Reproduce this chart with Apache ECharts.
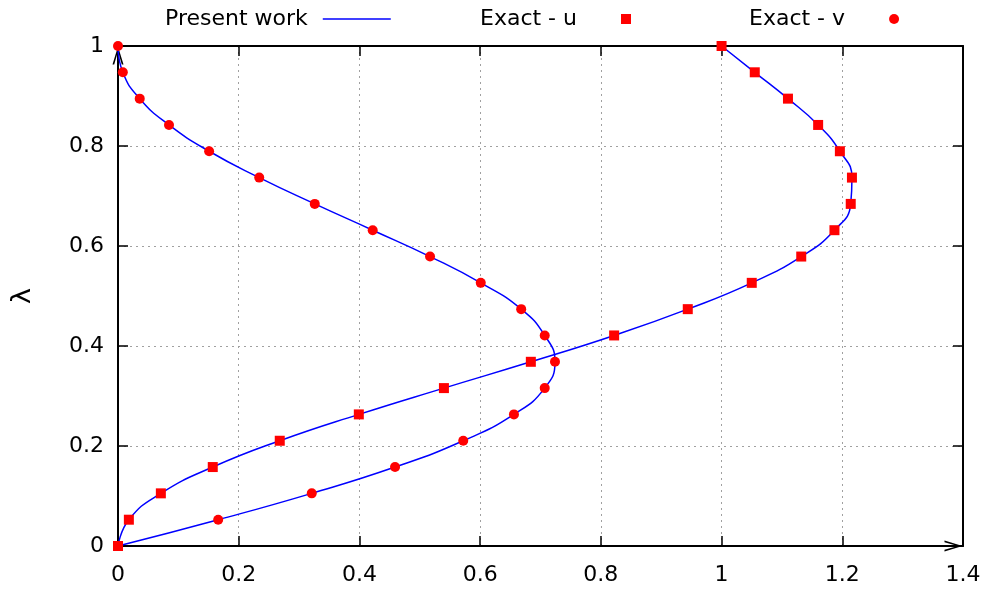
<!DOCTYPE html>
<html>
<head>
<meta charset="utf-8">
<script src="https://cdn.jsdelivr.net/npm/echarts@6/dist/echarts.min.js"></script>
<style>html,body{margin:0;padding:0;background:#fff;}#chart{width:989px;height:589px;}</style>
</head>
<body>
<div id="chart"></div>
<script>
// lambda (y) values: 20 equally spaced stations
const lambda = [0, 0.0526, 0.1053, 0.1579, 0.2105, 0.2632, 0.3158, 0.3684, 0.4211, 0.4737,
                0.5263, 0.5789, 0.6316, 0.6842, 0.7368, 0.7895, 0.8421, 0.8947, 0.9474, 1];
// Exact - u
const exactU = [0, 0.018, 0.071, 0.157, 0.268, 0.399, 0.540, 0.684, 0.822, 0.944,
                1.050, 1.132, 1.187, 1.214, 1.216, 1.196, 1.160, 1.110, 1.055, 1.0];
// Exact - v
const exactV = [0, 0.166, 0.321, 0.459, 0.572, 0.656, 0.707, 0.724, 0.707, 0.668,
                0.601, 0.517, 0.422, 0.326, 0.234, 0.151, 0.0845, 0.036, 0.008, 0];
// Present work (same stations)
const presentU = exactU.slice();
const presentV = exactV.slice();
const xTicks = ['0', '0.2', '0.4', '0.6', '0.8', '1', '1.2', '1.4'];
const yTicks = ['0', '0.2', '0.4', '0.6', '0.8', '1'];

const FONT = 'DejaVu Sans';
const pair = (xs) => xs.map((x, i) => [x, lambda[i]]);
const arrow = 'path://M5 0 L10.8 19 L9 19 L5 5 L1 19 L-0.8 19 Z';

const chart = echarts.init(document.getElementById('chart'), null, {renderer: 'canvas'});
const axisCommon = {
  type: 'value',
  axisTick: {show: true, inside: true, length: 10, lineStyle: {color: '#000', width: 1.5}},
  axisLine: {show: true, onZero: false, lineStyle: {color: '#000', width: 2}}
};
const option = {
  animation: false,
  backgroundColor: '#fff',
  textStyle: {fontFamily: FONT},
  grid: {left: 118, right: 26, top: 46, bottom: 43, containLabel: false, outerBoundsMode: 'none'},
  legend: [
    {data: [{name: 'Present work', icon: 'path://M0 0H68V1.6H0Z'}], left: 165, top: 8, padding: 0, align: 'right',
     itemWidth: 68, itemHeight: 14,
     textStyle: {fontSize: 22, color: '#000', fontFamily: FONT, padding: [0, 10, 0, 0]}},
    {data: [{name: 'Exact - u', icon: 'rect'}], left: 480, top: 8, padding: 0, align: 'right', itemWidth: 10, itemHeight: 10,
     textStyle: {fontSize: 22, color: '#000', fontFamily: FONT, padding: [0, 39, 0, 0]}},
    {data: [{name: 'Exact - v', icon: 'circle'}], left: 749, top: 8, padding: 0, align: 'right', itemWidth: 10, itemHeight: 10,
     textStyle: {fontSize: 22, color: '#000', fontFamily: FONT, padding: [0, 39, 0, 0]}}
  ],
  xAxis: [
    Object.assign({}, axisCommon, {
      position: 'bottom', min: 0, max: 1.4, interval: 0.2,
      axisLine: {show: true, onZero: false, lineStyle: {color: '#000', width: 2},
                 symbol: ['none', arrow], symbolSize: [11, 19], symbolOffset: [0, -9.5]},
      axisLabel: {show: true, color: '#000', fontSize: 22, fontFamily: FONT, margin: 18,
                  formatter: (v) => xTicks[Math.round(v / 0.2)]},
      splitLine: {show: true, lineStyle: {color: '#a0a0a0', width: 1, type: [2, 4]}}
    }),
    Object.assign({}, axisCommon, {
      position: 'top', min: 0, max: 1.4, interval: 0.2,
      axisLabel: {show: false}, splitLine: {show: false}
    })
  ],
  yAxis: [
    Object.assign({}, axisCommon, {
      position: 'left', min: 0, max: 1, interval: 0.2,
      name: 'λ', nameLocation: 'middle', nameRotate: 90, nameGap: 82,
      nameTextStyle: {fontSize: 27, color: '#000', fontFamily: FONT},
      axisLine: {show: true, onZero: false, lineStyle: {color: '#000', width: 2},
                 symbol: ['none', arrow], symbolSize: [11, 19], symbolOffset: [0, -9.5]},
      axisLabel: {show: true, color: '#000', fontSize: 22, fontFamily: FONT, margin: 14,
                  formatter: (v) => yTicks[Math.round(v / 0.2)]},
      splitLine: {show: true, lineStyle: {color: '#a0a0a0', width: 1, type: [2, 4]}}
    }),
    Object.assign({}, axisCommon, {
      position: 'right', min: 0, max: 1, interval: 0.2,
      axisLabel: {show: false}, splitLine: {show: false}
    })
  ],
  series: [
    {name: 'Present work', type: 'line', data: pair(presentU), smooth: 0.5, showSymbol: false, symbol: 'none',
     lineStyle: {color: '#0000ff', width: 1.5}, itemStyle: {color: '#0000ff'}, z: 2},
    {name: 'Present work', type: 'line', data: pair(presentV), smooth: 0.5, showSymbol: false, symbol: 'none',
     lineStyle: {color: '#0000ff', width: 1.5}, itemStyle: {color: '#0000ff'}, z: 2},
    {name: 'Exact - u', type: 'scatter', data: pair(exactU), symbol: 'rect', symbolSize: 10,
     itemStyle: {color: '#ff0000', opacity: 1}, z: 3},
    {name: 'Exact - v', type: 'scatter', data: pair(exactV), symbol: 'circle', symbolSize: 10,
     itemStyle: {color: '#ff0000', opacity: 1}, z: 3}
  ]
};
chart.setOption(option);
</script>
</body>
</html>
